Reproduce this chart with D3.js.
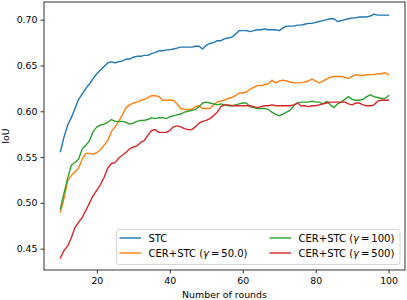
<!DOCTYPE html>
<html>
<head>
<meta charset="utf-8">
<script src="https://cdn.jsdelivr.net/npm/d3@7"></script>
<style>
  body { margin: 0; background: #fff; }
  svg { font-family: "DejaVu Sans", sans-serif; }
</style>
</head>
<body>
<div id="chart"></div>
<script>
// rounds 10..100, one value per round
var rounds = d3.range(10, 101);

var stc = [0.556,0.572,0.585,0.593,0.603,0.613,0.619,0.625,0.630,0.636,
  0.641,0.645,0.649,0.653,0.654,0.653,0.654,0.655,0.657,0.657,
  0.659,0.660,0.660,0.661,0.661,0.663,0.664,0.666,0.666,0.667,
  0.667,0.668,0.669,0.670,0.670,0.670,0.670,0.671,0.671,0.668,
  0.672,0.674,0.675,0.677,0.677,0.679,0.680,0.681,0.684,0.688,
  0.688,0.688,0.687,0.688,0.689,0.689,0.690,0.689,0.689,0.689,
  0.688,0.691,0.693,0.693,0.693,0.694,0.694,0.695,0.696,0.696,
  0.697,0.698,0.699,0.700,0.701,0.701,0.698,0.699,0.700,0.701,
  0.702,0.702,0.703,0.703,0.703,0.704,0.706,0.705,0.705,0.705,0.705];

var cer50 = [0.490,0.505,0.524,0.530,0.534,0.538,0.548,0.554,0.554,0.553,
  0.555,0.558,0.563,0.568,0.578,0.583,0.589,0.596,0.604,0.607,
  0.609,0.610,0.612,0.613,0.615,0.617,0.617,0.616,0.612,0.612,
  0.612,0.612,0.608,0.603,0.602,0.602,0.602,0.605,0.606,0.603,
  0.603,0.603,0.607,0.610,0.611,0.612,0.614,0.615,0.617,0.620,
  0.620,0.621,0.624,0.626,0.628,0.628,0.629,0.630,0.634,0.631,
  0.633,0.634,0.633,0.632,0.631,0.631,0.631,0.632,0.633,0.635,
  0.633,0.631,0.633,0.635,0.637,0.638,0.638,0.638,0.637,0.636,
  0.638,0.640,0.639,0.639,0.640,0.640,0.640,0.641,0.641,0.642,0.640];

var cer100 = [0.4935,0.511,0.527,0.541,0.544,0.548,0.559,0.563,0.568,0.578,
  0.583,0.585,0.586,0.588,0.591,0.589,0.589,0.589,0.588,0.586,
  0.587,0.589,0.590,0.590,0.591,0.593,0.592,0.593,0.593,0.592,
  0.594,0.595,0.596,0.597,0.599,0.600,0.601,0.602,0.605,0.609,
  0.610,0.609,0.608,0.607,0.608,0.607,0.606,0.606,0.607,0.608,
  0.609,0.609,0.605,0.604,0.603,0.603,0.603,0.602,0.599,0.597,
  0.595,0.597,0.599,0.601,0.606,0.609,0.610,0.610,0.610,0.611,
  0.610,0.610,0.608,0.611,0.607,0.604,0.608,0.610,0.613,0.616,
  0.613,0.612,0.612,0.613,0.616,0.618,0.616,0.615,0.614,0.614,0.617];

var cer500 = [0.440,0.448,0.453,0.462,0.473,0.479,0.484,0.492,0.500,0.508,
  0.514,0.520,0.528,0.538,0.543,0.544,0.549,0.552,0.555,0.559,
  0.561,0.562,0.566,0.568,0.574,0.579,0.580,0.577,0.577,0.577,
  0.579,0.583,0.584,0.583,0.581,0.580,0.580,0.583,0.587,0.589,
  0.590,0.592,0.595,0.599,0.605,0.607,0.607,0.606,0.606,0.606,
  0.606,0.606,0.606,0.605,0.604,0.605,0.606,0.606,0.607,0.606,
  0.606,0.606,0.606,0.606,0.607,0.609,0.606,0.606,0.605,0.606,
  0.606,0.607,0.608,0.609,0.610,0.610,0.610,0.610,0.610,0.608,
  0.607,0.609,0.609,0.607,0.606,0.606,0.607,0.611,0.612,0.612,0.612];

var seriesNames = ["STC", "CER+STC", "CER+STC", "CER+STC"];
var gammaLabels = [null, "50.0", "100", "500"];
var colors = ["#1f77b4", "#ff7f0e", "#2ca02c", "#d62728"];
var xTicks = [20, 40, 60, 80, 100];
var yTicks = [0.45, 0.50, 0.55, 0.60, 0.65, 0.70];

window.onload = function() {
  drawChart();
};

function drawChart() {
  var width = 407, height = 300;
  var margin = {top: 2, right: 2, bottom: 30, left: 44};
  var allSeries = [stc, cer50, cer100, cer500];

  var svg = d3.select("#chart").append("svg")
    .attr("width", width)
    .attr("height", height);

  // matplotlib style 5% padding on both axes
  var yMin = d3.min(allSeries, s => d3.min(s)), yMax = d3.max(allSeries, s => d3.max(s));
  var yPad = (yMax - yMin) * 0.05;
  var xPad = (100 - 10) * 0.05;

  var x = d3.scaleLinear().domain([10 - xPad, 100 + xPad]).range([margin.left, width - margin.right]);
  var y = d3.scaleLinear().domain([yMin - yPad, yMax + yPad]).range([height - margin.bottom, margin.top]);

  var xAxis = svg.append("g")
    .attr("transform", "translate(0," + (height - margin.bottom) + ")")
    .call(d3.axisBottom(x).tickValues(xTicks).tickSize(3.5).tickPadding(3.5).tickSizeOuter(0));
  var yAxis = svg.append("g")
    .attr("transform", "translate(" + margin.left + ",0)")
    .call(d3.axisLeft(y).tickValues(yTicks).tickFormat(d3.format(".2f")).tickSize(3.5).tickPadding(3).tickSizeOuter(0));

  [xAxis, yAxis].forEach(function(a) {
    a.select(".domain").remove();
    a.selectAll("text").attr("font-size", 9.4).attr("fill", "#000").attr("font-family", "DejaVu Sans");
    a.selectAll("line").attr("stroke", "#000").attr("stroke-width", 0.8);
  });

  var line = d3.line()
    .x((d, i) => x(rounds[i]))
    .y(d => y(d));

  svg.append("g").selectAll("path")
    .data(allSeries)
    .join("path")
    .attr("d", line)
    .attr("fill", "none")
    .attr("stroke", (d, i) => colors[i])
    .attr("stroke-width", 1.4)
    .attr("stroke-linejoin", "round")
    .attr("stroke-linecap", "square");

  // frame
  svg.append("rect")
    .attr("x", margin.left)
    .attr("y", margin.top)
    .attr("width", width - margin.left - margin.right)
    .attr("height", height - margin.top - margin.bottom)
    .attr("fill", "none")
    .attr("stroke", "#000")
    .attr("stroke-width", 0.8);

  svg.append("text")
    .attr("x", (margin.left + width - margin.right) / 2)
    .attr("y", 297.5)
    .attr("text-anchor", "middle")
    .attr("font-size", 9.4)
    .text("Number of rounds");

  svg.append("text")
    .attr("transform", "translate(9," + ((margin.top + height - margin.bottom) / 2) + ") rotate(-90)")
    .attr("text-anchor", "middle")
    .attr("font-size", 9.4)
    .text("IoU");

  drawLegend(svg);
}

function drawLegend(svg) {
  var legend = svg.append("g");
  legend.append("rect")
    .attr("x", 116.5).attr("y", 229.5)
    .attr("width", 283.5).attr("height", 35)
    .attr("rx", 2.5)
    .attr("fill", "#fff").attr("fill-opacity", 0.8)
    .attr("stroke", "#cccccc").attr("stroke-width", 0.8);

  var colX = [119.5, 269.5];
  var rowY = [238, 253];

  seriesNames.forEach(function(name, i) {
    var cx = colX[Math.floor(i / 2)], cy = rowY[i % 2];
    legend.append("line")
      .attr("x1", cx).attr("x2", cx + 21.5)
      .attr("y1", cy).attr("y2", cy)
      .attr("stroke", colors[i]).attr("stroke-width", 1.4);
    var t = legend.append("text")
      .attr("x", cx + 29).attr("y", cy + 3.6)
      .attr("font-size", 10);
    if (gammaLabels[i] == null) {
      t.text(name);
    } else {
      t.append("tspan").text(name + " (");
      t.append("tspan").attr("font-style", "italic").text("γ");
      t.append("tspan").text("\u2009=\u2009" + gammaLabels[i] + ")");
    }
  });
}
</script>
</body>
</html>
